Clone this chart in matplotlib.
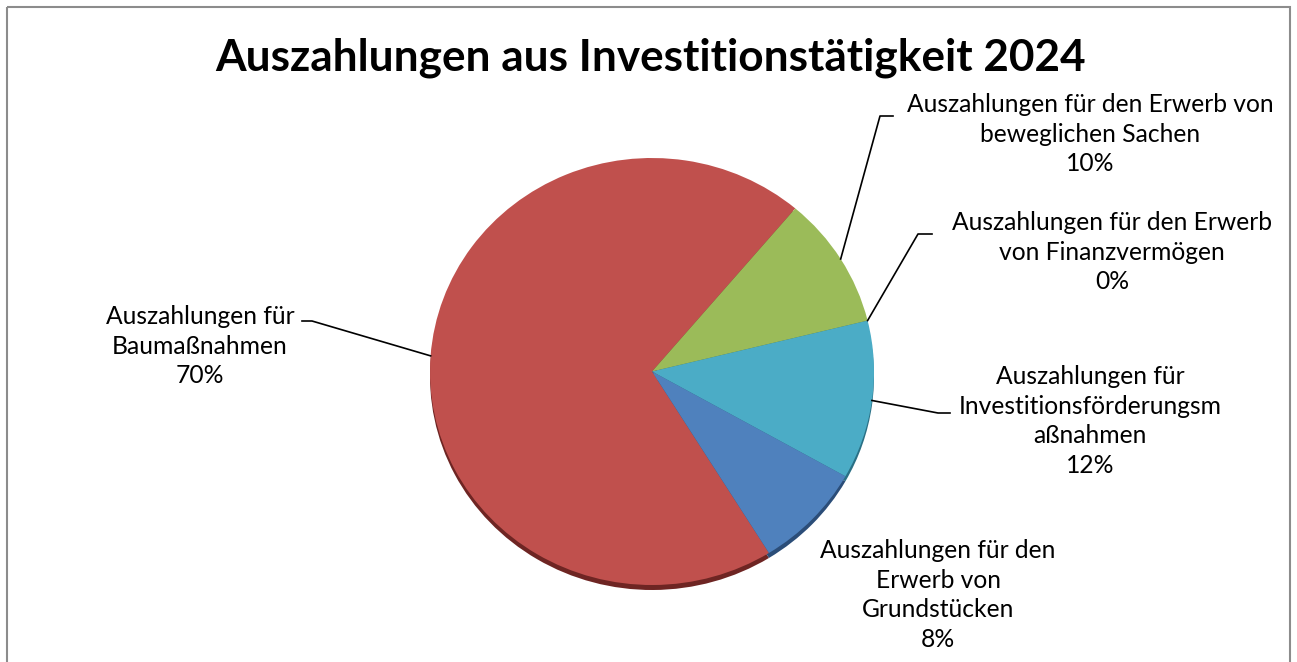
import numpy as np
import matplotlib.pyplot as plt
from matplotlib.patches import Rectangle

labels = ["Auszahlungen für\nBaumaßnahmen",
          "Auszahlungen für den Erwerb von\nbeweglichen Sachen",
          "Auszahlungen für den Erwerb\nvon Finanzvermögen",
          "Auszahlungen für\nInvestitionsförderungsm\naßnahmen",
          "Auszahlungen für den\nErwerb von\nGrundstücken"]
prozent = [70, 10, 0, 12, 8]
farben = ["#C0504D", "#9BBB59", "#8064A2", "#4BACC6", "#4F81BD"]
rand = ["#6E2523", "#5E7A2E", "#4A3766", "#2A7085", "#2B4D78"]

plt.rcParams['font.family'] = ['Lato', 'DejaVu Sans']

W, H = 1297, 662
fig = plt.figure(figsize=(W/100, H/100), dpi=100)

# Pie-Bereich in Pixeln
px0, px1, py0, py1 = 430, 874, 158, 585
cx, cy = (px0+px1)/2, (py0+py1)/2
rx, ry = (px1-px0)/2, (py1-py0)/2
start = -58.2

# Schatten / Rand (3D-Effekt)
ax_s = fig.add_axes([px0/W, (H-py1-5)/H, (px1-px0)/W, (py1-py0)/H])
ax_s.pie(prozent, colors=rand, startangle=start, counterclock=False,
         wedgeprops=dict(linewidth=0))
ax_s.set_aspect('auto')
ax_s.set_xlim(-1, 1); ax_s.set_ylim(-1, 1)
ax_s.axis('off')

ax = fig.add_axes([px0/W, (H-py1)/H, (px1-px0)/W, (py1-py0)/H])
wedges, _ = ax.pie(prozent, colors=farben, startangle=start, counterclock=False,
                   wedgeprops=dict(linewidth=0))
ax.set_aspect('auto')
ax.set_xlim(-1, 1); ax.set_ylim(-1, 1)
ax.axis('off')

# Overlay in Pixelkoordinaten
ov = fig.add_axes([0, 0, 1, 1], zorder=5)
ov.set_xlim(0, W); ov.set_ylim(H, 0)
ov.axis('off')
ov.patch.set_alpha(0)
ov.add_patch(Rectangle((7, 7), 1283, 700, fill=False, edgecolor="#8C8C8C", linewidth=1.5))

ov.text(651, 58, "Auszahlungen aus Investitionstätigkeit 2024", ha='center', va='center',
        fontsize=31.8, fontweight='bold')

# Textpositionen und Knickpunkte der Führungslinien
txt_pos = [(200, 346), (1090, 134), (1112, 252), (1090, 421), (938, 595)]
knick = [[(312, 321), (302, 321)], [(880, 116), (893, 116)], [(918, 234), (932, 234)],
         [(938, 413), (950, 413)], None]

for w, lab, p, tp, kn in zip(wedges, labels, prozent, txt_pos, knick):
    ov.text(tp[0], tp[1], f"{lab}\n{p}%", ha='center', va='center', fontsize=17.7,
            linespacing=1.36)
    if kn is None:
        continue
    mid = np.deg2rad((w.theta1 + w.theta2) / 2)
    ax0 = cx + rx*np.cos(mid)
    ay0 = cy - ry*np.sin(mid)
    xs = [ax0] + [k[0] for k in kn]
    ys = [ay0] + [k[1] for k in kn]
    ov.plot(xs, ys, color='black', linewidth=1.2)

fig.savefig("out.png", dpi=100, facecolor='white')
